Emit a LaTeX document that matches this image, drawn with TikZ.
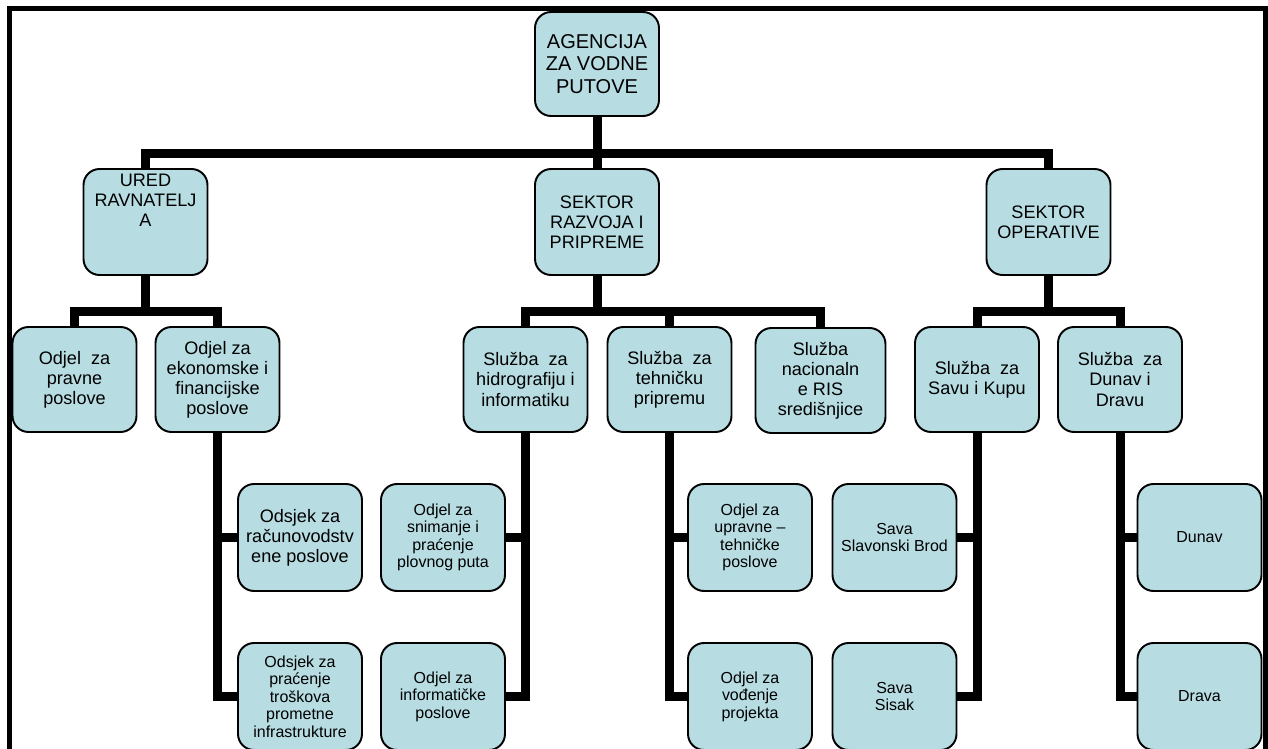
\documentclass[tikz,border=0pt]{standalone}
\definecolor{boxAqua}{RGB}{183,221,227}
\usepackage{fontspec}
\setmainfont{Liberation Sans}
\usepackage{tikz}

\begin{document}
\begin{tikzpicture}[x=0.02cm,y=-0.02cm,
    orgbox/.style={draw=black,line width=1.1pt,fill=boxAqua,rounded corners=0.32cm,
                   minimum width=2.48cm,inner sep=2pt,align=center},
    agency/.style={orgbox,minimum height=2.08cm,font=\fontsize{11.4}{12.8}\selectfont},
    sector/.style={orgbox,minimum height=2.12cm,font=\fontsize{10.3}{11.4}\selectfont},
    service/.style={orgbox,minimum height=2.1cm,font=\fontsize{10.3}{11.4}\selectfont},
    office/.style={orgbox,minimum height=2.14cm,font=\fontsize{9.1}{10}\selectfont},
    wire/.style={line width=0.18cm,line join=miter}
  ]
  \useasboundingbox (0,0) rectangle (1268,749);
  \clip (0,0) rectangle (1268,749);

  \node[agency] (agencija) at (597,64) {AGENCIJA\\ZA VODNE\\PUTOVE};

  \node[sector] (ured)      at (145.5,222)  {URED\\RAVNATELJ\\A\\[13.7pt]\mbox{}};
  \node[sector] (razvoj)    at (597,222)    {SEKTOR\\RAZVOJA I\\PRIPREME};
  \node[sector] (operativa) at (1048.5,222) {SEKTOR\\OPERATIVE};

  \node[service] (pravni)     at (74.5,379.5)  {Odjel\ \ za\\pravne\\poslove};
  \node[service] (ekonomski)  at (217.5,379.5) {Odjel za\\ekonomske i\\financijske\\poslove};
  \node[service] (hidro)      at (525.5,379.5) {Služba\ \ za\\hidrografiju i\\informatiku};
  \node[service] (tehnika)    at (669.5,379.5) {Služba\ \ za\\tehničku\\pripremu};
  \node[service,minimum width=2.6cm] (ris) at (820.5,380.5) {Služba\\nacionaln\\e RIS\\središnjice};
  \node[service] (savaKupa)   at (977,379.5)   {Služba\ \ za\\Savu i Kupu};
  \node[service] (dunavDrava) at (1120,379.5)  {Služba\ \ za\\Dunav i\\Dravu};

  \node[office,font=\fontsize{10.3}{11.4}\selectfont] (racun) at (300,537.5)
       {Odsjek za\\računovodstv\\ene poslove};
  \node[office] (troskovi)     at (300,696.5)    {Odsjek za\\praćenje\\troškova\\prometne\\infrastrukture};
  \node[office] (snimanje)     at (443,537.5)    {Odjel za\\snimanje i\\praćenje\\plovnog puta};
  \node[office] (informatika)  at (443,696.5)    {Odjel za\\informatičke\\poslove};
  \node[office] (upravni)      at (750,537.5)    {Odjel za\\upravne –\\tehničke\\poslove};
  \node[office] (projekti)     at (750,696.5)    {Odjel za\\vođenje\\projekta};
  \node[office] (slavonskiBrod) at (894.5,537.5) {Sava\\Slavonski Brod};
  \node[office] (sisak)        at (894.5,696.5)  {Sava\\Sisak};
  \node[office] (dunav)        at (1199.5,537.5) {Dunav};
  \node[office] (drava)        at (1199.5,696.5) {Drava};

  \draw[wire] (agencija.south) -- ++(0,37) -| (ured.north);
  \draw[wire] (agencija.south) -- ++(0,37) -| (operativa.north);
  \draw[wire] (agencija.south) -- (razvoj.north);

  \draw[wire] (ured.south) -- ++(0,36) -| (pravni.north);
  \draw[wire] (ured.south) -- ++(0,36) -| (ekonomski.north);
  \draw[wire] (razvoj.south) -- ++(0,36) -| (hidro.north);
  \draw[wire] (razvoj.south) -- ++(0,36) -| (tehnika.north);
  \draw[wire] (razvoj.south) -- ++(0,36) -| (ris.north);
  \draw[wire] (operativa.south) -- ++(0,36) -| (savaKupa.north);
  \draw[wire] (operativa.south) -- ++(0,36) -| (dunavDrava.north);

  \draw[wire] (ekonomski.south) |- (racun.west);
  \draw[wire] (ekonomski.south) |- (troskovi.west);
  \draw[wire] (hidro.south) |- (snimanje.east);
  \draw[wire] (hidro.south) |- (informatika.east);
  \draw[wire] (tehnika.south) |- (upravni.west);
  \draw[wire] (tehnika.south) |- (projekti.west);
  \draw[wire] (savaKupa.south) |- (slavonskiBrod.east);
  \draw[wire] (savaKupa.south) |- (sisak.east);
  \draw[wire] (dunavDrava.south) |- (dunav.west);
  \draw[wire] (dunavDrava.south) |- (drava.west);

  \draw[line width=0.1cm] (9.5,8.5) rectangle (1265.5,751);
\end{tikzpicture}
\end{document}
